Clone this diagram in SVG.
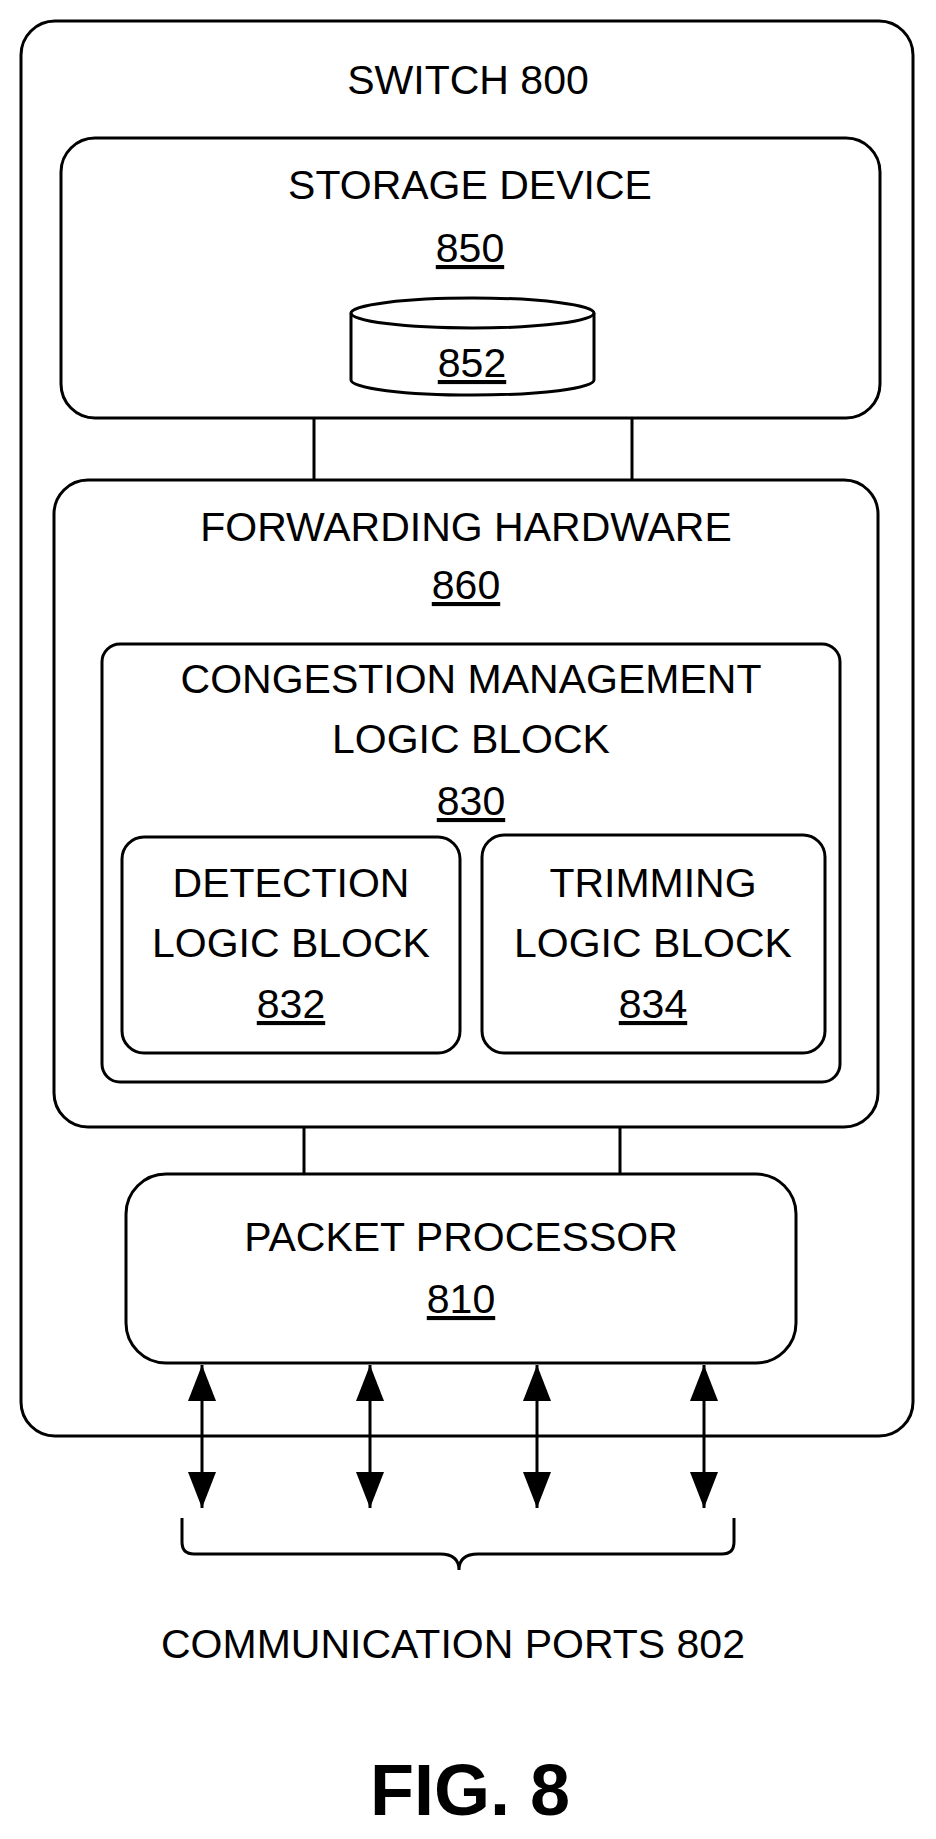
<svg xmlns="http://www.w3.org/2000/svg" width="936" height="1839" viewBox="0 0 936 1839">
<style>
.b{fill:none;stroke:#000;stroke-width:3}
text{font-family:"Liberation Sans",Arial,sans-serif;font-size:41px;text-anchor:middle;fill:#000}
.u{text-decoration:underline}
.l{stroke:#000;stroke-width:3;fill:none}
</style>
<defs>
<marker id="ah" viewBox="0 0 36 28" refX="36" refY="14" markerWidth="36" markerHeight="28" orient="auto-start-reverse" markerUnits="userSpaceOnUse"><path d="M0,0 L36,14 L0,28z" fill="#000"/></marker>
</defs>
<g id="switch"><rect class="b" x="21" y="21" width="892" height="1415" rx="34"/><text x="468" y="94">SWITCH 800</text></g>
<g id="storage"><rect class="b" x="61" y="138" width="819" height="280" rx="34"/><text x="470" y="199">STORAGE DEVICE</text><text x="470" y="262" class="u">850</text></g>
<g id="disk"><path class="b" d="M351,313 V380 A121,15 0 0 0 594,380 V313"/><ellipse class="b" cx="472.5" cy="313" rx="121.5" ry="15"/><text x="472" y="377" class="u">852</text></g>
<g id="connectors">
<line class="l" x1="314" y1="418" x2="314" y2="480"/><line class="l" x1="632" y1="418" x2="632" y2="480"/>
<line class="l" x1="304" y1="1127" x2="304" y2="1174"/><line class="l" x1="620" y1="1127" x2="620" y2="1174"/>
<g stroke="#000" stroke-width="3">
<line x1="202" y1="1365" x2="202" y2="1508" marker-start="url(#ah)" marker-end="url(#ah)"/>
<line x1="370" y1="1365" x2="370" y2="1508" marker-start="url(#ah)" marker-end="url(#ah)"/>
<line x1="537" y1="1365" x2="537" y2="1508" marker-start="url(#ah)" marker-end="url(#ah)"/>
<line x1="704" y1="1365" x2="704" y2="1508" marker-start="url(#ah)" marker-end="url(#ah)"/>
</g>
<path class="l" d="M182,1518 V1542 Q182,1554 194,1554 H440 Q459,1554 459,1570 Q459,1554 478,1554 H722 Q734,1554 734,1542 V1518"/>
</g>
<g id="fwd"><rect class="b" x="54" y="480" width="824" height="647" rx="34"/><text x="466" y="541">FORWARDING HARDWARE</text><text x="466" y="599" class="u">860</text></g>
<g id="cong"><rect class="b" x="102" y="644" width="738" height="438" rx="18"/><text x="471" y="693">CONGESTION MANAGEMENT</text><text x="471" y="753">LOGIC BLOCK</text><text x="471" y="815" class="u">830</text></g>
<g id="det"><rect class="b" x="122" y="837" width="338" height="216" rx="22"/><text x="291" y="897">DETECTION</text><text x="291" y="957">LOGIC BLOCK</text><text x="291" y="1018" class="u">832</text></g>
<g id="trim"><rect class="b" x="482" y="835" width="343" height="218" rx="22"/><text x="653" y="897">TRIMMING</text><text x="653" y="957">LOGIC BLOCK</text><text x="653" y="1018" class="u">834</text></g>
<g id="pp"><rect class="b" x="126" y="1174" width="670" height="189" rx="40"/><text x="461" y="1251">PACKET PROCESSOR</text><text x="461" y="1313" class="u">810</text></g>
<text x="453" y="1658">COMMUNICATION PORTS 802</text>
<text x="470" y="1815" style="font-size:72px;font-weight:bold">FIG. 8</text>
</svg>
